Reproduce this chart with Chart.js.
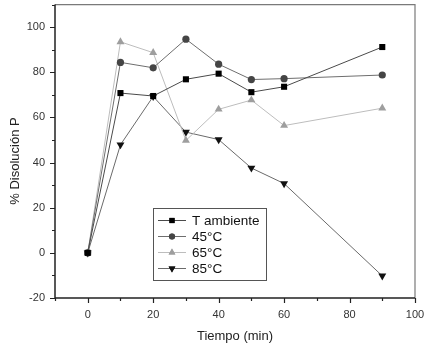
<!DOCTYPE html>
<html>
<head>
<meta charset="utf-8">
<script src="https://cdn.jsdelivr.net/npm/chart.js@4/dist/chart.umd.min.js"></script>
<style>
html,body{margin:0;padding:0;background:#fff;}
#c{display:block;}
</style>
</head>
<body>
<canvas id="c" width="430" height="347"></canvas>
<script>
const times = [0, 10, 20, 30, 40, 50, 60, 90];
const tAmbiente = [0, 70.8, 69.5, 76.9, 79.4, 71.2, 73.6, 91.2];
const t45 = [0, 84.4, 82.0, 94.7, 83.6, 76.8, 77.2, 78.8];
const t65 = [0, 93.5, 88.7, 49.8, 63.6, 67.7, 56.4, 64.1];
const t85 = [0, 47.9, 69.3, 53.5, 50.2, 37.6, 30.7, -10.2];
const seriesLabels = ['T ambiente', '45°C', '65°C', '85°C'];
const xTicks = [0, 20, 40, 60, 80, 100];
const yTicks = [-20, 0, 20, 40, 60, 80, 100];
const xTitle = 'Tiempo (min)';
const yTitle = '% Disolución P';

const FONT = '"Liberation Sans", Arial, sans-serif';

function pts(arr) { return times.map((t, i) => ({x: t, y: arr[i]})); }

const styles = [
  {line: '#4a4a4a', fill: '#000000', style: 'rect', r: 4.3, rot: 0},
  {line: '#6e6e6e', fill: '#454545', style: 'circle', r: 3.6, rot: 0},
  {line: '#bdbdbd', fill: '#9e9e9e', style: 'triangle', r: 4.6, rot: 0},
  {line: '#6a6a6a', fill: '#111111', style: 'triangle', r: 4.6, rot: 180}
];
const values = [tAmbiente, t45, t65, t85];

const datasets = values.map((v, i) => ({
  label: seriesLabels[i],
  data: pts(v),
  borderColor: styles[i].line,
  borderWidth: 1,
  backgroundColor: styles[i].fill,
  pointBackgroundColor: styles[i].fill,
  pointBorderColor: styles[i].fill,
  pointBorderWidth: 0,
  pointStyle: styles[i].style,
  pointRadius: styles[i].r,
  pointRotation: styles[i].rot,
  tension: 0,
  clip: false
}));

const framePlugin = {
  id: 'frame',
  beforeDatasetsDraw(chart) {
    const {ctx, chartArea: a, scales} = chart;
    ctx.save();
    ctx.strokeStyle = '#7a7a7a';
    ctx.lineWidth = 1.2;
    ctx.beginPath();
    ctx.moveTo(a.left, a.top); ctx.lineTo(a.right, a.top); ctx.lineTo(a.right, a.bottom);
    ctx.stroke();
    ctx.strokeStyle = '#222';
    ctx.lineWidth = 1.5;
    ctx.beginPath();
    ctx.moveTo(a.left, a.top); ctx.lineTo(a.left, a.bottom); ctx.lineTo(a.right, a.bottom);
    ctx.stroke();
    ctx.lineWidth = 1.2;
    ctx.beginPath();
    for (let v = -10; v <= 100; v += 10) {
      const px = Math.round(scales.x.getPixelForValue(v)) + 0.5;
      const len = (v % 20 === 0) ? 5 : 3;
      ctx.moveTo(px, a.bottom); ctx.lineTo(px, a.bottom + len);
    }
    for (let v = -20; v <= 110; v += 10) {
      const py = Math.round(scales.y.getPixelForValue(v)) + 0.5;
      const len = (v % 20 === 0) ? 5 : 3;
      ctx.moveTo(a.left, py); ctx.lineTo(a.left - len, py);
    }
    ctx.stroke();
    // tick labels
    ctx.fillStyle = '#333';
    ctx.font = '11px ' + FONT;
    ctx.textBaseline = 'middle';
    ctx.textAlign = 'center';
    xTicks.forEach(v => ctx.fillText(String(v), scales.x.getPixelForValue(v), a.bottom + 17));
    ctx.textAlign = 'right';
    yTicks.forEach(v => ctx.fillText(String(v), a.left - 10, scales.y.getPixelForValue(v)));
    // axis titles
    ctx.fillStyle = '#222';
    ctx.font = '13px ' + FONT;
    ctx.textAlign = 'center';
    ctx.fillText(xTitle, (a.left + a.right) / 2, 336);
    ctx.translate(15, 161);
    ctx.rotate(-Math.PI / 2);
    ctx.fillText(yTitle, 0, 0);
    ctx.restore();
  },
  afterDatasetsDraw(chart) {
    const {ctx} = chart;
    ctx.save();
    const bx = 153, by = 208, bw = 113, bh = 72;
    ctx.fillStyle = '#fff';
    ctx.fillRect(bx, by, bw, bh);
    ctx.strokeStyle = '#555';
    ctx.lineWidth = 1;
    ctx.strokeRect(bx + 0.5, by + 0.5, bw, bh);
    ctx.font = '13.5px ' + FONT;
    ctx.textAlign = 'left';
    ctx.textBaseline = 'middle';
    chart.data.datasets.forEach((ds, i) => {
      const y = 220.5 + i * 16;
      ctx.strokeStyle = ds.borderColor;
      ctx.lineWidth = 1;
      ctx.beginPath();
      ctx.moveTo(158, y); ctx.lineTo(186, y);
      ctx.stroke();
      ctx.fillStyle = ds.pointBackgroundColor;
      Chart.helpers.drawPoint(ctx, {pointStyle: ds.pointStyle, radius: ds.pointRadius * 0.85, rotation: ds.pointRotation, borderWidth: 0}, 172, y);
      ctx.fill();
      ctx.fillStyle = '#111';
      ctx.fillText(ds.label, 192, y + 0.5);
    });
    ctx.restore();
  }
};

new Chart(document.getElementById('c'), {
  type: 'line',
  data: {datasets},
  options: {
    responsive: false,
    animation: false,
    devicePixelRatio: 1,
    layout: {padding: {left: 0, right: 15, top: 4, bottom: 0}},
    plugins: {legend: {display: false}, tooltip: {enabled: false}},
    scales: {
      x: {
        type: 'linear',
        min: -10, max: 100,
        afterFit: s => { s.height = 49; },
        grid: {display: false, drawTicks: false},
        border: {display: false},
        ticks: {display: false}
      },
      y: {
        type: 'linear',
        min: -20, max: 110,
        afterFit: s => { s.width = 55; },
        grid: {display: false, drawTicks: false},
        border: {display: false},
        ticks: {display: false}
      }
    }
  },
  plugins: [framePlugin]
});
</script>
</body>
</html>
